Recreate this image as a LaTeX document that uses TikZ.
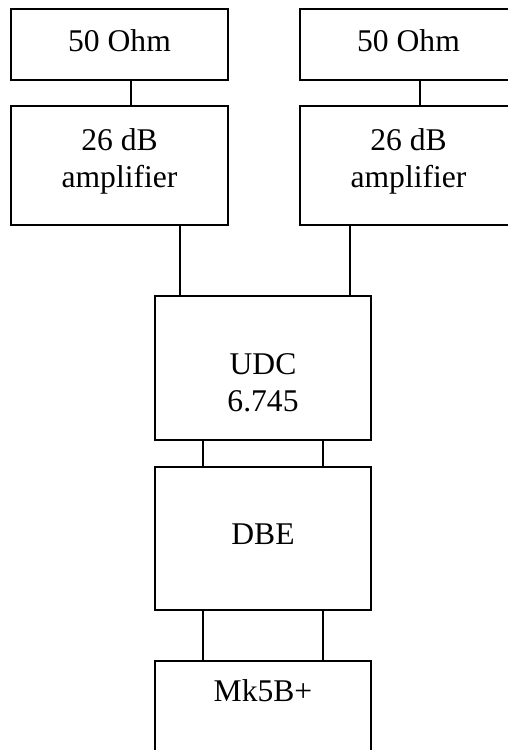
\documentclass[tikz,border=0pt]{standalone}
\usepackage{fontspec}
\setmainfont{Liberation Serif}
\usetikzlibrary{positioning}

\begin{document}
\begin{tikzpicture}[x=0.5pt, y=-0.5pt, node distance=12pt]
\tikzstyle{blk}=[draw, line width=1pt, inner sep=0pt, align=center,
  font=\fontsize{15.8}{18.5}\selectfont, minimum width=108.5pt]
\useasboundingbox (0,0) rectangle (508,750);
\node[blk, minimum height=35.5pt, text depth=3.7pt] (ohm1) at (119.5,44.5) {50 Ohm};
\node[blk, minimum height=35.5pt, text depth=3.7pt, right=35pt of ohm1] (ohm2) {50 Ohm};
\node[blk, minimum height=59.5pt, text depth=7.4pt, below=of ohm1] (amp1) {26 dB\\amplifier};
\node[blk, minimum height=59.5pt, text depth=7.4pt, below=of ohm2] (amp2) {26 dB\\amplifier};
\node[blk, minimum height=72pt, minimum width=108pt, text height=43.5pt] (udc) at (263,368) {UDC\\6.745};
\node[blk, minimum height=71.5pt, minimum width=108pt, text depth=4.8pt, below=12.5pt of udc] (dbe) {DBE};
\node[blk, minimum height=71pt, minimum width=108pt, text depth=41.5pt, below=24.5pt of dbe] (mk) {Mk5B+};
% links
\draw[line width=1pt] ([xshift=5.75pt]ohm1.south) -- ([xshift=5.75pt]amp1.north);
\draw[line width=1pt] ([xshift=5.75pt]ohm2.south) -- ([xshift=5.75pt]amp2.north);
\draw[line width=1pt] ([xshift=30.25pt]amp1.south) -- ([xshift=30.25pt]amp1.south |- udc.north);
\draw[line width=1pt] ([xshift=-29.25pt]amp2.south) -- ([xshift=-29.25pt]amp2.south |- udc.north);
\foreach \dx in {-30pt,30pt} {
  \draw[line width=1pt] ([xshift=\dx]udc.south) -- ([xshift=\dx]dbe.north);
  \draw[line width=1pt] ([xshift=\dx]dbe.south) -- ([xshift=\dx]mk.north);
}
\end{tikzpicture}
\end{document}
